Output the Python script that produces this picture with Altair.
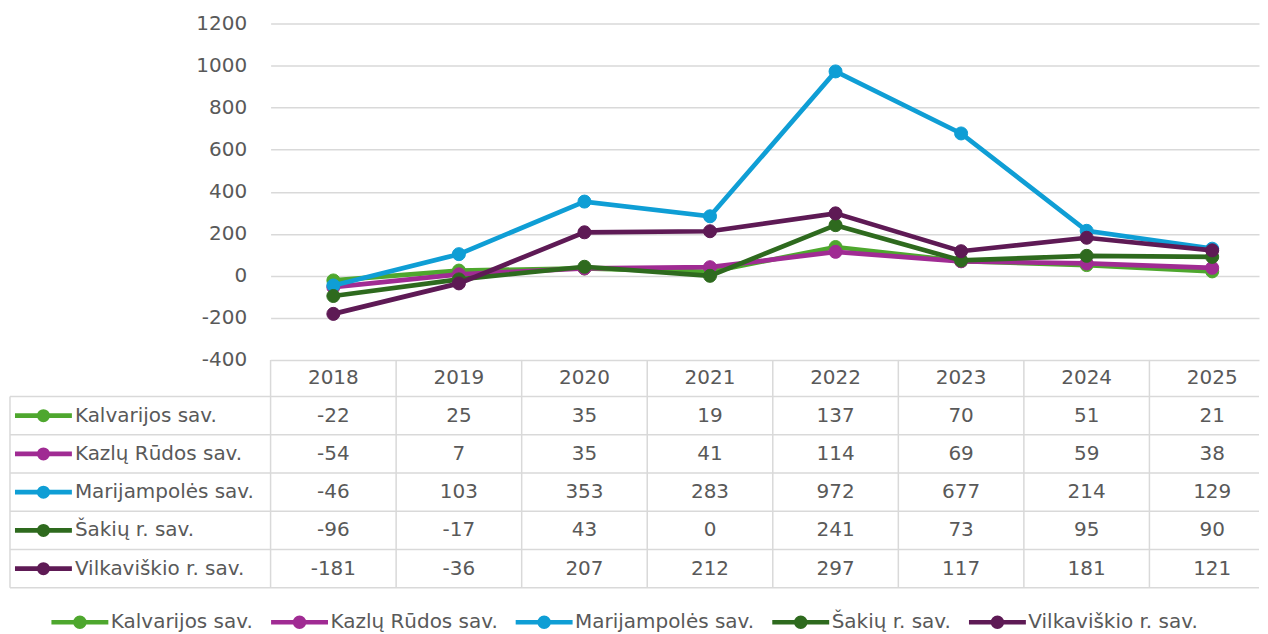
import altair as alt
import pandas as pd

# ---------------- data ----------------
years = [2018, 2019, 2020, 2021, 2022, 2023, 2024, 2025]
series_names = ["Kalvarijos sav.", "Kazlų Rūdos sav.", "Marijampolės sav.",
                "Šakių r. sav.", "Vilkaviškio r. sav."]
kalvarijos = [-22, 25, 35, 19, 137, 70, 51, 21]
kazlu_rudos = [-54, 7, 35, 41, 114, 69, 59, 38]
marijampoles = [-46, 103, 353, 283, 972, 677, 214, 129]
sakiu = [-96, -17, 43, 0, 241, 73, 95, 90]
vilkaviskio = [-181, -36, 207, 212, 297, 117, 181, 121]
series_values = [kalvarijos, kazlu_rudos, marijampoles, sakiu, vilkaviskio]
colors = ["#4EA72E", "#A02B93", "#0F9ED5", "#2E6A1E", "#5E1A55"]
y_ticks = [-400, -200, 0, 200, 400, 600, 800, 1000, 1200]

# ---------------- layout helpers ----------------
FONT = "DejaVu Sans"
FS = 20
TXT = "#595959"
GRID = "#D9D9D9"
COL = 125.75             # px per year column
W = 990                  # visible plot width
X_MAX = W / COL
CHART_H = 337            # line chart part height (1200 .. -400)
PPU = CHART_H / 1600.0   # px per value unit
HEAD_H = 36.7
ROW_H = 38.3
H = CHART_H + HEAD_H + ROW_H * len(series_names)
LBL_W = 261              # label column width


def yv(px):  # px below plot top -> value units
    return 1200 - px / PPU


def xv(px):  # px from plot left -> x units
    return px / COL


y_min = yv(H)

rows = []
for name, vals in zip(series_names, series_values):
    for i, (yr, v) in enumerate(zip(years, vals)):
        rows.append({"series": name, "year": yr, "xi": i + 0.5, "value": v})
df = pd.DataFrame(rows)

cells, header, labels, hrules, vrules = [], [], [], [], []
for i, yr in enumerate(years):
    header.append({"x": i + 0.5, "y": yv(CHART_H + HEAD_H / 2), "t": str(yr)})
for r, (name, vals) in enumerate(zip(series_names, series_values)):
    yc = yv(CHART_H + HEAD_H + ROW_H * (r + 0.5))
    for i, v in enumerate(vals):
        cells.append({"x": i + 0.5, "y": yc, "t": str(v)})
    labels.append({"series": name, "y": yc, "xt": xv(-196), "x1": xv(-256),
                   "x2": xv(-199), "xc": xv(-227.5)})
for k in range(len(series_names) + 1):
    hrules.append({"x": xv(-LBL_W), "x2": X_MAX, "y": yv(CHART_H + HEAD_H + ROW_H * k)})
vrules.append({"x": xv(-LBL_W), "y": yv(CHART_H + HEAD_H), "y2": yv(H)})
for i in range(len(years)):
    vrules.append({"x": i, "y": yv(CHART_H), "y2": yv(H)})

xs = alt.Scale(domain=[0, X_MAX], nice=False, zero=False)
ys = alt.Scale(domain=[y_min, 1200], nice=False, zero=False)
fill_scale = alt.Scale(domain=series_names, range=colors)
stroke_scale = alt.Scale(domain=series_names, range=colors)
color_scale = alt.Scale(domain=series_names, range=colors)

r_sym = 4.5 / 28.5
sym_path = (f"M-1,0H1M{r_sym},0A{r_sym},{r_sym},0,1,1,{-r_sym},0"
            f"A{r_sym},{r_sym},0,1,1,{r_sym},0Z")
legend = alt.Legend(
    title=None, orient="none", direction="horizontal",
    legendX=-222, legendY=568.5, padding=0,
    symbolType=sym_path, symbolSize=3249, symbolStrokeWidth=4.5,
    labelFont=FONT, labelFontSize=FS, labelColor=TXT, labelLimit=400,
    labelOffset=0, columnPadding=8,
)

y_axis = alt.Axis(values=y_ticks, title=None, domain=False, ticks=False, tickSize=0,
                  labelExpr="'' + datum.value",
                  labelPadding=24, labelFont=FONT, labelFontSize=FS, labelColor=TXT,
                  grid=True, gridColor=GRID, gridWidth=1.5)


def X(field):
    return alt.X(field, scale=xs, axis=None)


def Y(field):
    return alt.Y(field, scale=ys, axis=y_axis)


layers = []
# table grid
layers.append(alt.Chart(pd.DataFrame(hrules)).mark_rule(color=GRID, strokeWidth=1.5).encode(
    x=X("x:Q"), x2="x2:Q", y=Y("y:Q")))
layers.append(alt.Chart(pd.DataFrame(vrules)).mark_rule(color=GRID, strokeWidth=1.5).encode(
    x=X("x:Q"), y=Y("y:Q"), y2="y2:Q"))

# lines and markers
for name, col in zip(series_names, colors):
    base = alt.Chart(df).transform_filter(alt.datum.series == name)
    layers.append(base.mark_line(strokeWidth=4.7, color=col).encode(
        x=X("xi:Q"), y=Y("value:Q")))
    layers.append(base.mark_point(filled=True, size=170, opacity=1, strokeWidth=1).encode(
        x=X("xi:Q"), y=Y("value:Q"),
        fill=alt.Fill("series:N", scale=fill_scale, legend=legend),
        stroke=alt.Stroke("series:N", scale=stroke_scale, legend=legend)))

# table text
for d in (header, cells):
    layers.append(alt.Chart(pd.DataFrame(d)).mark_text(
        font=FONT, fontSize=FS, color=TXT, align="center", baseline="middle").encode(
        x=X("x:Q"), y=Y("y:Q"), text="t:N"))

lab = pd.DataFrame(labels)
layers.append(alt.Chart(lab).mark_rule(strokeWidth=4.7).encode(
    x=X("x1:Q"), x2="x2:Q", y=Y("y:Q"),
    color=alt.Color("series:N", scale=color_scale, legend=None)))
layers.append(alt.Chart(lab).mark_point(filled=True, size=170, opacity=1).encode(
    x=X("xc:Q"), y=Y("y:Q"),
    color=alt.Color("series:N", scale=color_scale, legend=None)))
layers.append(alt.Chart(lab).mark_text(
    font=FONT, fontSize=FS, color=TXT, align="left", baseline="middle").encode(
    x=X("xt:Q"), y=Y("y:Q"), text="series:N"))

chart = alt.layer(*layers).properties(
    width=W, height=H,
    padding={"left": 1, "top": 5, "right": 0, "bottom": 0},
    background="white",
).configure_view(stroke=None)

chart.save("out.html", embed_options={"renderer": "svg", "actions": False})
